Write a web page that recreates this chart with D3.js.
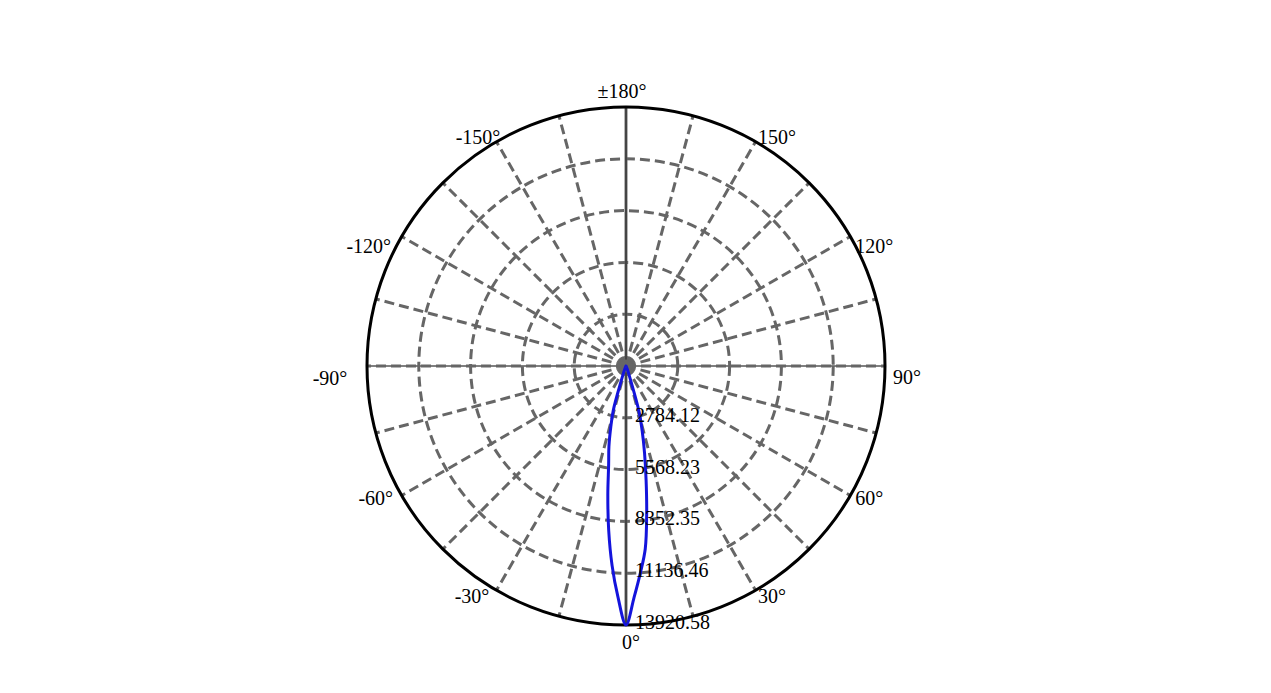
<!DOCTYPE html>
<html>
<head>
<meta charset="utf-8">
<script src="https://cdn.jsdelivr.net/npm/d3@7"></script>
<style>
  html, body { margin: 0; padding: 0; background: #ffffff; }
  svg { display: block; }
  text { font-family: "Liberation Serif", "Times New Roman", serif; font-size: 20px; fill: #000; }
</style>
</head>
<body>
<svg id="chart" width="1271" height="693"></svg>
<script>
// ---- data ----
const ringValues = [2784.12, 5568.23, 8352.35, 11136.46, 13920.58];
const ringLabels = ["2784.12", "5568.23", "8352.35", "11136.46", "13920.58"];
const maxValue = 13920.58;
const tickAngles = [0, 30, 60, 90, 120, 150, 180, -150, -120, -90, -60, -30];
const tickLabels = ["0°", "30°", "60°", "90°", "120°", "150°", "±180°", "-150°", "-120°", "-90°", "-60°", "-30°"];
const spokeAngles = d3.range(0, 360, 15);
const curveAngles = [-180, -120, -90, -60, -40, -30, -25, -22, -20, -18, -16, -14, -12, -10, -8, -6, -4, -2,
                     0, 2, 4, 6, 8, 10, 12, 14, 16, 18, 20, 22, 25, 30, 40, 60, 90, 120, 180];
const curveValues = [0, 0, 2, 5, 10, 20, 60, 150, 350, 800, 2480, 3380, 4410, 5370, 7020, 8890, 10740, 12420,
                     13920.58, 12440, 11130, 9890, 7990, 6220, 4800, 3600, 2520, 800, 350, 150, 60, 20, 10, 5, 2, 0, 0];

// ---- layout ----
const cx = 626, cy = 366, R = 259;
// label centre offsets from spoke end (layout only)
const labelNudge = {
  "0": [5, 17], "30": [16.5, 6], "60": [19, 2.5], "90": [22, 11], "120": [24, 9.5], "150": [21.5, -5],
  "180": [-4, -16], "-150": [-18.5, -5], "-120": [-33, 9.5], "-90": [-37, 12], "-60": [-26, 2.5], "-30": [-24.5, 6]
};

const svg = d3.select("#chart");
const g = svg.append("g").attr("transform", `translate(${cx},${cy})`);
const r = d3.scaleLinear().domain([0, maxValue]).range([0, R]);
const rad = deg => deg * Math.PI / 180;
const px = (deg, v) => r(v) * Math.sin(rad(deg));
const py = (deg, v) => r(v) * Math.cos(rad(deg));

const gridColor = "#666666";

// thin axis lines
g.append("line").attr("x1", -R).attr("x2", R).attr("y1", 0).attr("y2", 0)
  .attr("stroke", "#000").attr("stroke-width", 1);
g.append("line").attr("x1", 0).attr("x2", 0).attr("y1", -R).attr("y2", R)
  .attr("stroke", "#000").attr("stroke-width", 1);

// rings (dashed)
g.selectAll("circle.ring").data(ringValues.slice(0, -1)).enter().append("circle")
  .attr("class", "ring").attr("r", d => r(d))
  .attr("fill", "none").attr("stroke", gridColor).attr("stroke-width", 3)
  .attr("stroke-dasharray", "10,5");

// spokes (dashed)
g.selectAll("line.spoke").data(spokeAngles).enter().append("line")
  .attr("class", "spoke")
  .attr("x1", 0).attr("y1", 0)
  .attr("x2", d => px(d, maxValue)).attr("y2", d => py(d, maxValue))
  .attr("stroke", gridColor).attr("stroke-width", 3)
  .attr("stroke-dasharray", d => (d % 180 === 0) ? null : "10,5")
  .attr("stroke-opacity", d => (d % 180 === 0) ? 0.95 : 1);

// redraw thin vertical axis on top of solid gray spoke
g.append("line").attr("x1", 0).attr("x2", 0).attr("y1", -R).attr("y2", R)
  .attr("stroke", "#222").attr("stroke-width", 1);

// outer circle
g.append("circle").attr("r", R).attr("fill", "none").attr("stroke", "#000").attr("stroke-width", 3);

// centre dot
g.append("circle").attr("r", 6.5).attr("fill", gridColor);

// intensity curve
const pts = curveAngles.map((a, i) => ({ a, v: curveValues[i] }));
const line = d3.lineRadial()
  .angle(d => Math.PI - rad(d.a))
  .radius(d => r(d.v))
  .curve(d3.curveCatmullRom.alpha(0.5));
g.append("path").datum(pts).attr("d", line)
  .attr("fill", "none").attr("stroke", "#1414dc").attr("stroke-width", 3).attr("stroke-linejoin", "round");

// ring labels
g.selectAll("text.rl").data(ringValues).enter().append("text")
  .attr("class", "rl")
  .attr("x", 9).attr("y", d => r(d) - 3)
  .attr("dominant-baseline", "central")
  .text((d, i) => ringLabels[i]);

// angle labels
g.selectAll("text.al").data(tickAngles).enter().append("text")
  .attr("class", "al")
  .attr("x", d => px(d, maxValue) + labelNudge[String(d)][0])
  .attr("y", d => py(d, maxValue) + labelNudge[String(d)][1])
  .attr("text-anchor", "middle")
  .attr("dominant-baseline", "central")
  .text((d, i) => tickLabels[i]);
</script>
</body>
</html>
